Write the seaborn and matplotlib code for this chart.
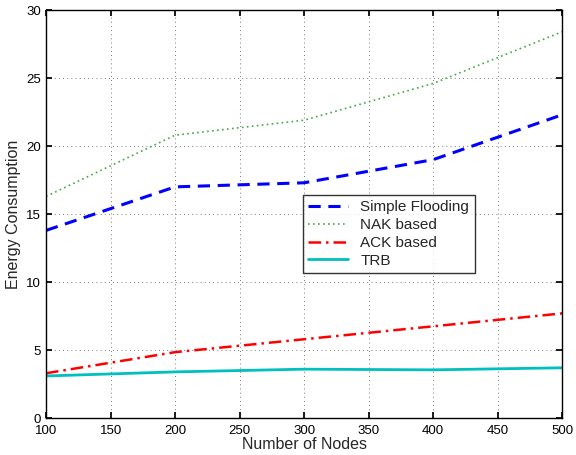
import pandas as pd
import matplotlib
matplotlib.use("Agg")
import matplotlib.pyplot as plt
import seaborn as sns

# Dados
nodes = [100, 200, 300, 400, 500]
simple_flooding = [13.8, 17.0, 17.3, 19.0, 22.3]
nak_based = [16.3, 20.8, 21.9, 24.6, 28.4]
ack_based = [3.3, 4.85, 5.8, 6.75, 7.7]
trb = [3.1, 3.4, 3.6, 3.55, 3.7]

series_names = ["Simple Flooding", "NAK based", "ACK based", "TRB"]
series_values = [simple_flooding, nak_based, ack_based, trb]

df = pd.DataFrame({
    "nodes": nodes * len(series_names),
    "energy": [v for vals in series_values for v in vals],
    "method": [n for n in series_names for _ in nodes],
})

sns.set_theme(style="white")
plt.rcParams["font.family"] = ["Liberation Sans", "DejaVu Sans"]

fig = plt.figure(figsize=(5.76, 4.55), dpi=100)
ax = fig.add_axes([0.080, 0.081, 0.896, 0.897])

palette = {"Simple Flooding": "#0000ff", "NAK based": "#44a844",
           "ACK based": "#ff0000", "TRB": "#00bfbf"}
dashes = {"Simple Flooding": (4, 2.5), "NAK based": (1, 2),
          "ACK based": (5, 2, 1, 2), "TRB": ""}
widths = {"Simple Flooding": 2.2, "NAK based": 1.2, "ACK based": 1.8, "TRB": 2.0}

for name in series_names:
    sub = df[df["method"] == name]
    sns.lineplot(data=sub, x="nodes", y="energy", ax=ax, color=palette[name],
                 label=name, linewidth=widths[name])
    line = ax.get_lines()[-1]
    if dashes[name]:
        line.set_dashes(dashes[name])

ax.set_xlim(100, 500)
ax.set_ylim(0, 30)
ax.set_xticks(range(100, 501, 50))
ax.set_yticks(range(0, 31, 5))
ax.grid(True, linestyle=(0, (1, 4)), color="black", linewidth=0.6, alpha=0.7)
ax.tick_params(direction="in", length=4, labelsize=9.5, colors="black",
               top=True, right=True, bottom=True, left=True)
ax.tick_params(axis="x", pad=5)
for s in ax.spines.values():
    s.set_color("black")
    s.set_linewidth(1.0)

ax.set_xlabel("Number of Nodes", fontsize=11.5, labelpad=0)
ax.set_ylabel("Energy Consumption", fontsize=11.5, labelpad=4)

leg = ax.legend(loc="upper left", bbox_to_anchor=(0.498, 0.547), borderaxespad=0,
                fontsize=11, frameon=True, fancybox=False, handlelength=2.6,
                labelspacing=0.25, borderpad=0.35)
leg.get_frame().set_edgecolor("black")
leg.get_frame().set_linewidth(1.0)
for h, name in zip(leg.get_lines(), series_names):
    if dashes[name]:
        h.set_dashes(dashes[name])

plt.savefig("out.png", dpi=100)
